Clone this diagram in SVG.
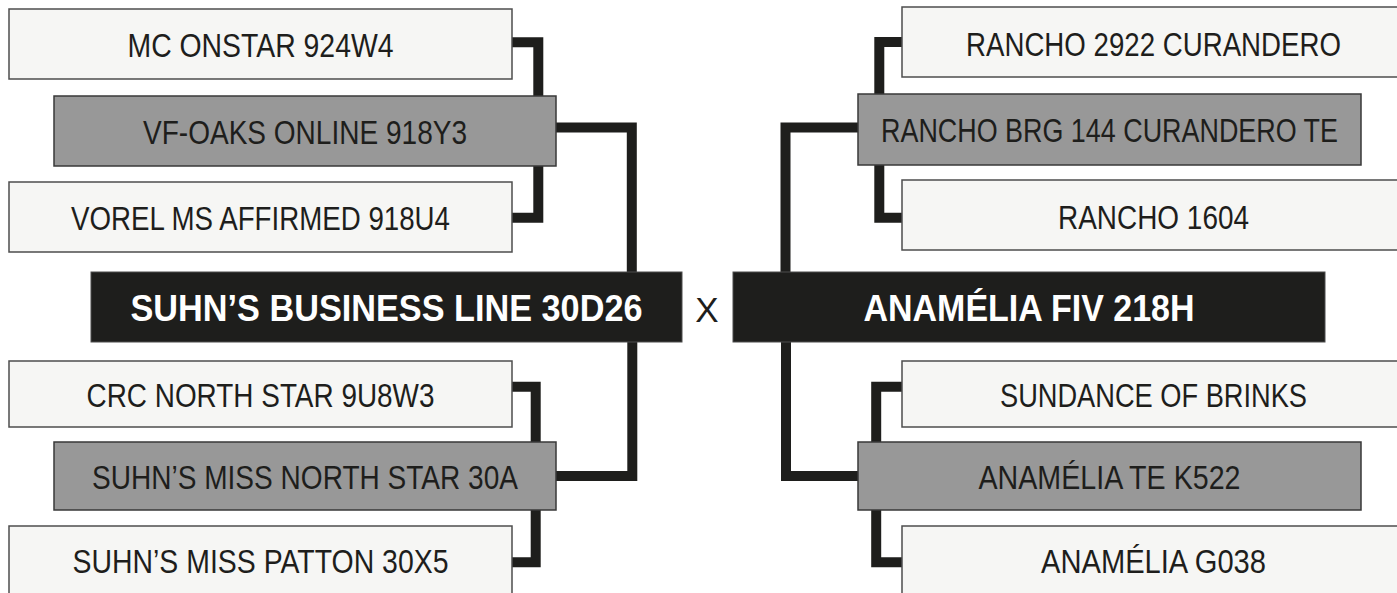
<svg xmlns="http://www.w3.org/2000/svg" width="1397" height="593" viewBox="0 0 1397 593">
<style>
.bg{fill:#ffffff}
.w{fill:#f6f6f4;stroke:#4d4d4d;stroke-width:1.5}
.g{fill:#989898;stroke:#383838;stroke-width:1.5}
.b{fill:#1e1e1c;stroke:#4d4d4d;stroke-width:1}
.c{fill:none;stroke:#1e1e1c;stroke-width:10;stroke-linejoin:miter;stroke-linecap:butt}
.t{font-family:"Liberation Sans",Arial,sans-serif;font-size:33px;fill:#1e1e1c;text-anchor:middle}
.ts{font-family:"Liberation Sans",Arial,sans-serif;font-size:28px;fill:#1e1e1c;text-anchor:middle}
.tb{font-family:"Liberation Sans",Arial,sans-serif;font-size:36px;font-weight:bold;fill:#ffffff;text-anchor:middle}
.x{font-family:"Liberation Sans",Arial,sans-serif;font-size:35px;fill:#1e1e1c;text-anchor:middle}
</style>
<rect class="bg" x="0" y="0" width="1397" height="593"/>
<g id="connectors">
<path class="c" d="M512,42.3 H538.3 V217.7 H512"/>
<path class="c" d="M556,127.5 H631.8 V272"/>
<path class="c" d="M512,386.7 H535.7 V562.3 H512"/>
<path class="c" d="M632.3,342 V476 H556"/>
<path class="c" d="M902,42 H879.3 V217.7 H902"/>
<path class="c" d="M858,127.5 H785.5 V272"/>
<path class="c" d="M902,386.7 H876.2 V562.3 H902"/>
<path class="c" d="M786,342 V476 H858"/>
</g>
<g id="mc-onstar"><rect class="w" x="9" y="9" width="503" height="70"/><text class="t" x="260.5" y="57" textLength="266" lengthAdjust="spacingAndGlyphs">MC ONSTAR 924W4</text></g>
<g id="vf-oaks"><rect class="g" x="54" y="96" width="502" height="70"/><text class="t" x="305" y="144" textLength="324" lengthAdjust="spacingAndGlyphs">VF-OAKS ONLINE 918Y3</text></g>
<g id="vorel"><rect class="w" x="9" y="182" width="503" height="70"/><text class="t" x="260.5" y="230" textLength="379" lengthAdjust="spacingAndGlyphs">VOREL MS AFFIRMED 918U4</text></g>
<g id="suhns-business-line"><rect class="b" x="91" y="272" width="591" height="70"/><text class="tb" x="386.5" y="321" textLength="512" lengthAdjust="spacingAndGlyphs">SUHN’S BUSINESS LINE 30D26</text></g>
<g id="crc"><rect class="w" x="9" y="361" width="503" height="66"/><text class="t" x="260.5" y="407" textLength="348" lengthAdjust="spacingAndGlyphs">CRC NORTH STAR 9U8W3</text></g>
<g id="suhns-miss-north-star"><rect class="g" x="54" y="442" width="502" height="68"/><text class="t" x="305" y="489" textLength="426" lengthAdjust="spacingAndGlyphs">SUHN’S MISS NORTH STAR 30A</text></g>
<g id="suhns-miss-patton"><rect class="w" x="9" y="526" width="503" height="70"/><text class="t" x="260.5" y="573" textLength="376" lengthAdjust="spacingAndGlyphs">SUHN’S MISS PATTON 30X5</text></g>
<g id="x-label"><text class="x" x="707" y="322">X</text></g>
<g id="rancho-2922"><rect class="w" x="902" y="7" width="503" height="70"/><text class="ts" transform="translate(1153.5,55.5) scale(1,1.18)" x="0" y="0" textLength="375" lengthAdjust="spacingAndGlyphs">RANCHO 2922 CURANDERO</text></g>
<g id="rancho-brg"><rect class="g" x="858" y="94" width="503" height="71"/><text class="ts" transform="translate(1109.5,142) scale(1,1.18)" x="0" y="0" textLength="457" lengthAdjust="spacingAndGlyphs">RANCHO BRG 144 CURANDERO TE</text></g>
<g id="rancho-1604"><rect class="w" x="902" y="180" width="503" height="70"/><text class="t" x="1153.5" y="228.5" textLength="191" lengthAdjust="spacingAndGlyphs">RANCHO 1604</text></g>
<g id="anamelia-fiv"><rect class="b" x="733" y="272" width="592" height="70"/><text class="tb" x="1029" y="321" textLength="331" lengthAdjust="spacingAndGlyphs">ANAMÉLIA FIV 218H</text></g>
<g id="sundance"><rect class="w" x="902" y="361" width="503" height="66"/><text class="t" x="1153.5" y="407" textLength="307" lengthAdjust="spacingAndGlyphs">SUNDANCE OF BRINKS</text></g>
<g id="anamelia-te"><rect class="g" x="858" y="442" width="503" height="68"/><text class="t" x="1109.5" y="489" textLength="262" lengthAdjust="spacingAndGlyphs">ANAMÉLIA TE K522</text></g>
<g id="anamelia-g038"><rect class="w" x="902" y="526" width="503" height="70"/><text class="t" x="1153.5" y="573" textLength="225" lengthAdjust="spacingAndGlyphs">ANAMÉLIA G038</text></g>
</svg>
